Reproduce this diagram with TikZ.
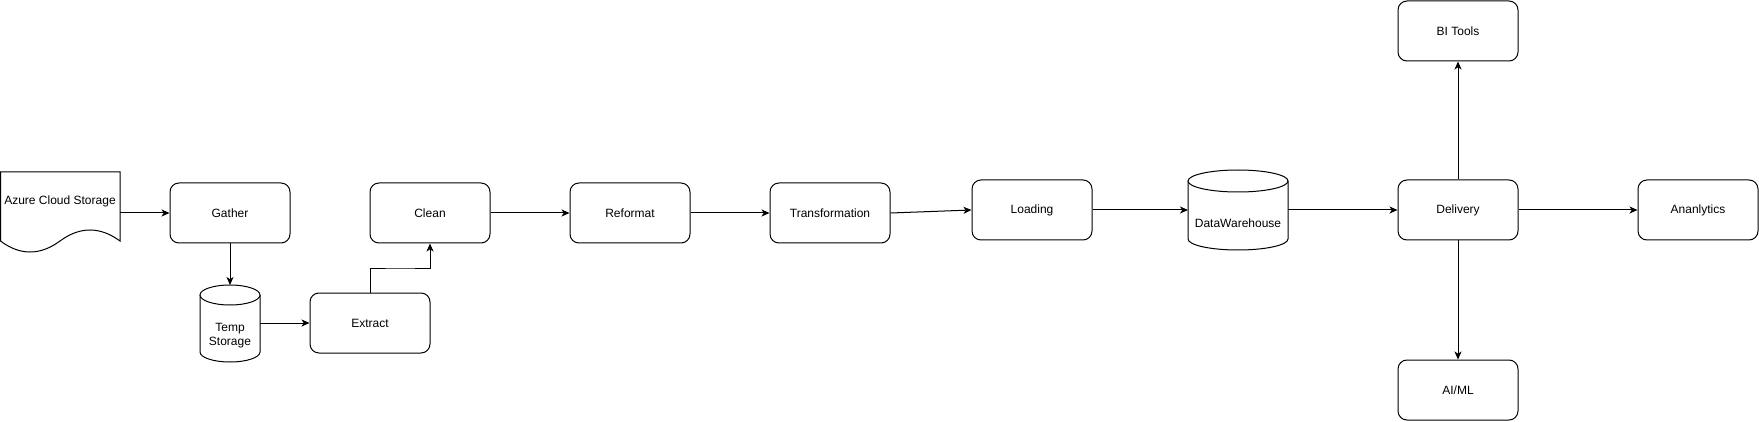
\documentclass[tikz,border=0pt]{standalone}
\usepackage{fontspec}
\setmainfont{Liberation Sans}
\usetikzlibrary{arrows.meta,calc}
\begin{document}
\begin{tikzpicture}[x=1pt,y=-1pt,
  box/.style={draw, line width=1pt, rounded corners=9pt, minimum width=120pt, minimum height=60pt, inner sep=0pt, font=\fontsize{12}{14}\selectfont},
  lbl/.style={inner sep=0pt, font=\fontsize{12}{14}\selectfont, align=center},
  ghost/.style={inner sep=0pt, outer sep=0pt},
  shp/.style={draw, line width=1pt, fill=white},
  arr/.style={line width=1pt, -{Stealth[length=8pt,width=7pt,inset=2.2pt]}}]
\useasboundingbox (0,0) rectangle (1759,422);

% Azure document shape
\draw[shp] (0.5,172) -- (120,172) -- (120,241) .. controls (100,226.33) and (80,226.33) .. (60,241) .. controls (40,255.67) and (20,255.67) .. (0.5,241) -- cycle;
\node[ghost, minimum width=120pt, minimum height=80pt] (azure) at (60,212) {};
\node[lbl] (azuretxt) at (60,201) {Azure Cloud Storage};

% Temp storage cylinder
\draw[shp] (200,295) -- (200,352) arc[start angle=180, end angle=360, x radius=30pt, y radius=10pt] -- (260,295);
\draw[shp] (230,295) ellipse[x radius=30pt, y radius=10pt];
\node[ghost, minimum width=60pt, minimum height=77pt] (temp) at (230,323.5) {};
\node[lbl] (temptxt) at (230,336) {Temp\\Storage};

% DataWarehouse cylinder
\draw[shp] (1188,181) -- (1188,239) arc[start angle=180, end angle=360, x radius=50pt, y radius=11pt] -- (1288,181);
\draw[shp] (1238,181) ellipse[x radius=50pt, y radius=11pt];
\node[ghost, minimum width=100pt, minimum height=80pt] (dw) at (1238,210) {};
\node[lbl] (dwtxt) at (1238,223) {DataWarehouse};

% Boxes
\node[box] (gather) at (230,213) {Gather};
\node[box] (extract) at (370,323) {Extract};
\node[box] (clean) at (430,213) {Clean};
\node[box] (reformat) at (630,213) {Reformat};
\node[box] (transformation) at (830,213) {Transformation};
\node[box] (loading) at (1032,210) {Loading};
\node[box] (delivery) at (1458,210) {Delivery};
\node[box] (bitools) at (1458,31) {BI Tools};
\node[box] (analytics) at (1698,210) {Ananlytics};
\node[box] (aiml) at (1458,390) {AI/ML};

% Connectors
\draw[arr] (gather.west -| azure.east) -- (gather.west);
\draw[arr] (gather.south) -- (temp.north);
\draw[arr] (temp.east |- extract.west) -- (extract.west);
\draw[arr] (extract.north) |- ($(extract.north)!0.5!(clean.south)$) -| (clean.south);
\draw[arr] (clean.east) -- (reformat.west);
\draw[arr] (reformat.east) -- (transformation.west);
\draw[arr] (transformation.east) -- (loading.west);
\draw[arr] (loading.east) -- (dw.west);
\draw[arr] (dw.east) -- (delivery.west);
\draw[arr] (delivery.north) -- (bitools.south);
\draw[arr] (delivery.east) -- (analytics.west);
\draw[arr] (delivery.south) -- (aiml.north);
\end{tikzpicture}
\end{document}
